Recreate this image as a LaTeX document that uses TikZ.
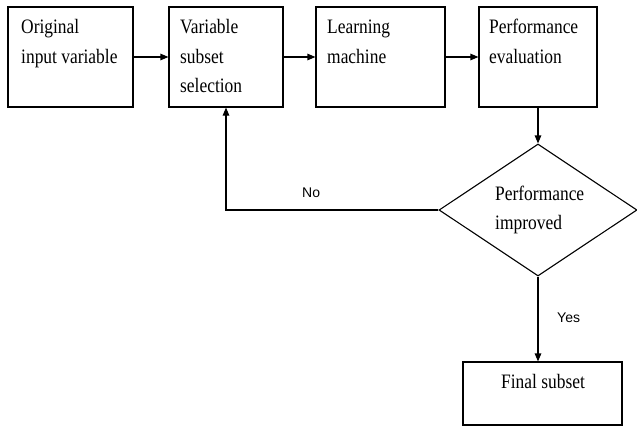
\documentclass[tikz,border=0pt]{standalone}
\usepackage{fontspec}
\setmainfont{Liberation Serif}[FakeStretch=0.85]
\newfontfamily\labelfont{Liberation Sans}
\usetikzlibrary{shapes.geometric,arrows.meta}
\begin{document}
\begin{tikzpicture}[x=1pt,y=-1pt,
  box/.style={draw,line width=1.1pt,rectangle,inner sep=0pt},
  dec/.style={draw,line width=1.1pt,diamond,inner sep=0pt,minimum width=198pt,minimum height=132pt},
  txt/.style={anchor=base west,inner sep=0pt,font=\fontsize{20.5}{29}\selectfont},
  lbl/.style={anchor=base west,inner sep=0pt,font=\labelfont\fontsize{14}{16}\selectfont},
  arr/.style={line width=1.1pt,-{Triangle[length=8pt,width=6.5pt]}}]
\useasboundingbox (0,0) rectangle (637,426);
\node[box,minimum width=125pt,minimum height=100pt] (b1) at (70.5,57) {};
\node[box,minimum width=114pt,minimum height=100pt] (b2) at (226,57) {};
\node[box,minimum width=129pt,minimum height=100pt] (b3) at (380.5,57) {};
\node[box,minimum width=118pt,minimum height=100pt] (b4) at (538,57) {};
\node[dec] (d) at (538,210) {};
\node[box,minimum width=159pt,minimum height=63pt] (f) at (542.5,393.5) {};
\node[txt] (t1a) at (21,33) {Original};
\node[txt] (t1b) at (21,63) {input variable};
\node[txt] (t2a) at (180,33) {Variable};
\node[txt] (t2b) at (180,63) {subset};
\node[txt] (t2c) at (180,92) {selection};
\node[txt] (t3a) at (327,33) {Learning};
\node[txt] (t3b) at (327,63) {machine};
\node[txt] (t4a) at (489,33) {Performance};
\node[txt] (t4b) at (489,63) {evaluation};
\node[txt] (tda) at (495,200) {Performance};
\node[txt] (tdb) at (495,229) {improved};
\node[txt,anchor=base] (tf) at (543,388) {Final subset};
\node[lbl] (no) at (302,197) {No};
\node[lbl] (yes) at (557,322) {Yes};
\draw[arr] (b1.east) -- (b2.west);
\draw[arr] (b2.east) -- (b3.west);
\draw[arr] (b3.east) -- (b4.west);
\draw[arr] (b4.south) -- (d.north);
\draw[arr] (d.west) -| (b2.south);
\draw[arr] (d.south) -- (d.south |- f.north);
\end{tikzpicture}
\end{document}
